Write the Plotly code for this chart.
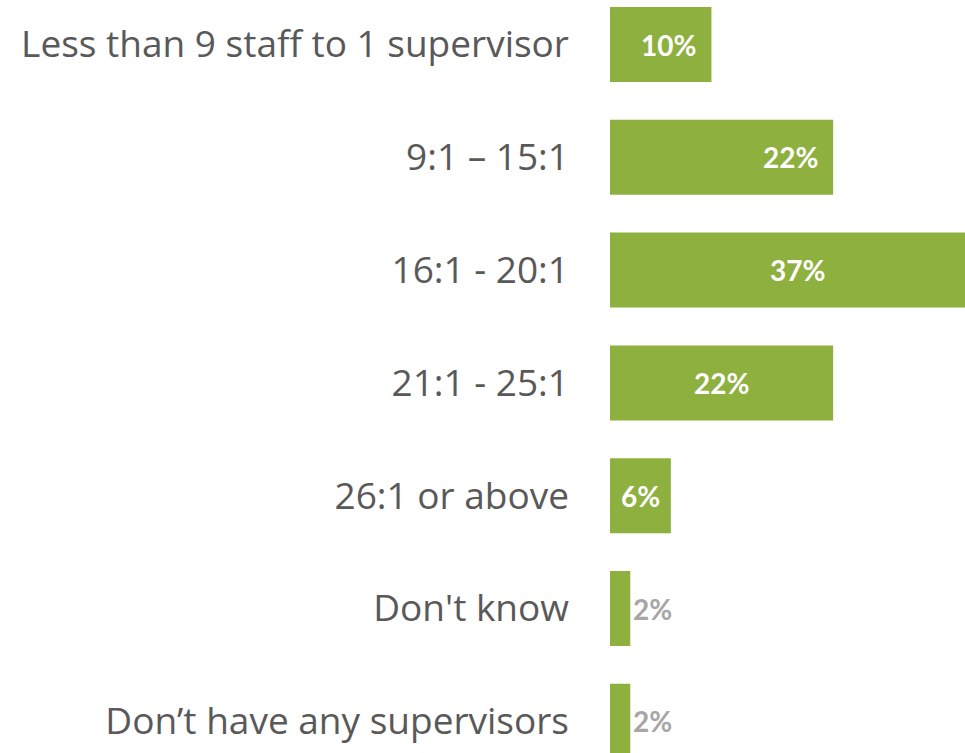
import plotly.graph_objects as go

# Staff-to-supervisor ratio responses (share of respondents, %)
categories = [
    "Less than 9 staff to 1 supervisor",
    "9:1 – 15:1",
    "16:1 - 20:1",
    "21:1 - 25:1",
    "26:1 or above",
    "Don't know",
    "Don’t have any supervisors",
]
shares = [10, 22, 37, 22, 6, 2, 2]

# How each value label sits relative to its bar
label_modes = ["end", "end", "center", "center", "center", "outside", "outside"]

BAR_GREEN = "#8EB03F"
TEXT_GREY = "#595959"
LIGHT_GREY = "#A6A6A6"
LABEL_FONT = "Lato"

fig = go.Figure(
    go.Bar(
        x=shares,
        y=categories,
        orientation="h",
        marker=dict(color=BAR_GREEN, line=dict(width=0)),
        width=0.665,
        hoverinfo="skip",
    )
)

annotations = []
for cat, val, mode in zip(categories, shares, label_modes):
    text = f"<b>{val}%</b>"
    if mode == "end":
        annotations.append(dict(x=val, y=cat, text=text, xanchor="right", xshift=-13,
                                showarrow=False, font=dict(color="white", size=28, family=LABEL_FONT)))
    elif mode == "center":
        annotations.append(dict(x=val / 2, y=cat, text=text, xanchor="center",
                                showarrow=False, font=dict(color="white", size=28, family=LABEL_FONT)))
    else:
        annotations.append(dict(x=val, y=cat, text=text, xanchor="left", xshift=1,
                                showarrow=False, font=dict(color=LIGHT_GREY, size=28, family=LABEL_FONT)))

fig.update_layout(
    width=965,
    height=753,
    margin=dict(l=610, r=0, t=0, b=0),
    paper_bgcolor="white",
    plot_bgcolor="white",
    showlegend=False,
    annotations=annotations,
    xaxis=dict(range=[0, 35], visible=False, showgrid=False, zeroline=False, fixedrange=True),
    yaxis=dict(
        type="category",
        categoryorder="array",
        categoryarray=categories,
        range=[6.281, -0.3945],
        showgrid=False,
        zeroline=False,
        showline=False,
        ticks="",
        ticklabelstandoff=40,
        automargin=False,
        tickfont=dict(family="Open Sans", size=37, color=TEXT_GREY),
    ),
)

fig.write_html("out.html")
